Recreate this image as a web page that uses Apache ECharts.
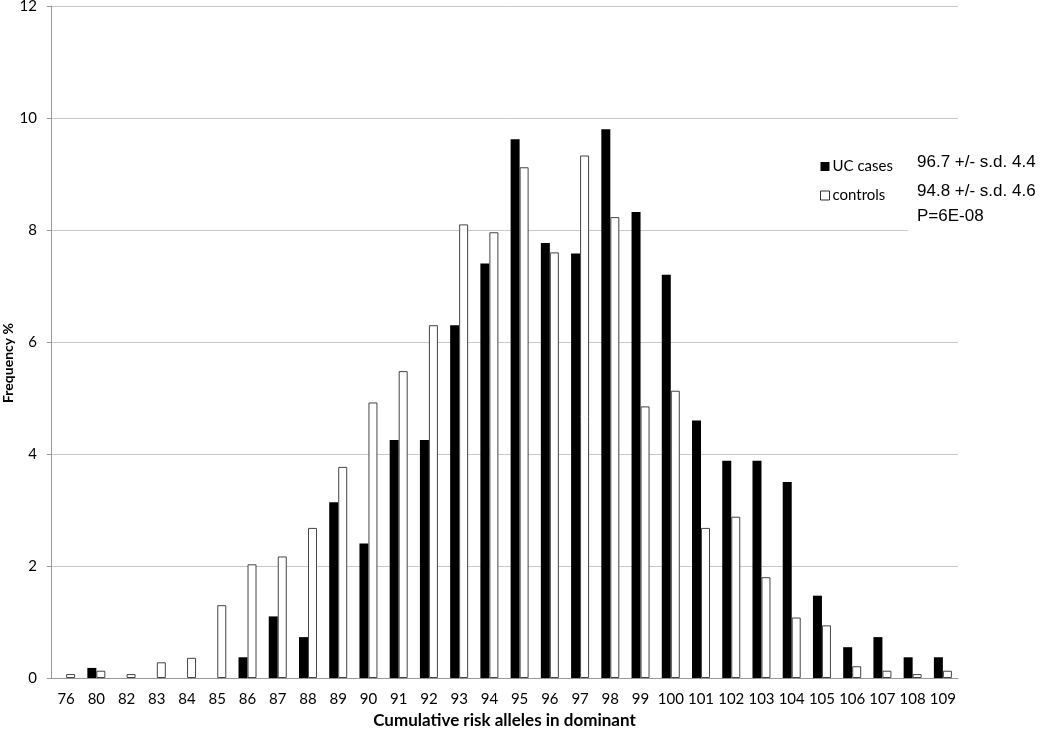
<!DOCTYPE html>
<html>
<head>
<meta charset="utf-8">
<script src="https://cdn.jsdelivr.net/npm/echarts@6/dist/echarts.min.js"></script>
<style>html,body{margin:0;padding:0;background:#fff}#c{width:1050px;height:733px}</style>
</head>
<body>
<div id="c"></div>
<script>
const categories = ['76','80','82','83','84','85','86','87','88','89','90','91','92','93','94','95','96','97','98','99','100','101','102','103','104','105','106','107','108','109'];
const ucCases = [0,0.18,0,0,0,0,0.37,1.1,0.73,3.14,2.4,4.25,4.25,6.3,7.4,9.62,7.77,7.58,9.8,8.32,7.2,4.6,3.88,3.88,3.5,1.47,0.55,0.73,0.37,0.37];
const controls = [0.07,0.13,0.07,0.28,0.36,1.3,2.03,2.17,2.68,3.77,4.92,5.48,6.3,8.1,7.96,9.12,7.6,9.33,8.23,4.85,5.13,2.68,2.88,1.8,1.08,0.94,0.21,0.13,0.07,0.13];
const yTicks = {min: 0, max: 12, interval: 2};
const annotations = ['96.7 +/- s.d. 4.4', '94.8 +/- s.d. 4.6', 'P=6E-08'];
const yName = 'Frequency %';

const chart = echarts.init(document.getElementById('c'));
const labelFont = 'Lato, "Open Sans", sans-serif';
chart.setOption({
  animation: false,
  backgroundColor: '#fff',
  grid: {left: 51, right: 92, top: 6, bottom: 55, containLabel: false, outerBoundsMode: 'none'},
  legend: {
    orient: 'vertical', left: 815, top: 154, itemGap: 14,
    itemWidth: 9, itemHeight: 9, icon: 'rect',
    textStyle: {fontFamily: labelFont, fontSize: 15, color: '#000', padding: [0,0,0,-2]},
    data: [{name: 'UC cases'}, {name: 'controls', itemStyle: {color: '#fff', borderColor: '#333', borderWidth: 1}}]
  },
  xAxis: {
    type: 'category', data: categories,
    name: 'Cumulative risk alleles in dominant', nameLocation: 'middle', nameGap: 34,
    nameTextStyle: {fontFamily: labelFont, fontSize: 17, fontWeight: 'bold', color: '#000'},
    axisLine: {lineStyle: {color: '#999'}}, axisTick: {show: false},
    axisLabel: {fontFamily: labelFont, fontSize: 15, color: '#000', margin: 14, interval: 0}
  },
  yAxis: {
    type: 'value', min: yTicks.min, max: yTicks.max, interval: yTicks.interval,
    axisLine: {show: true, lineStyle: {color: '#999'}},
    axisTick: {show: true, length: 4, lineStyle: {color: '#999'}},
    axisLabel: {fontFamily: labelFont, fontSize: 15, color: '#000', margin: 14},
    splitLine: {lineStyle: {color: '#c8c8c8', width: 1}}
  },
  series: [
    {name: 'UC cases', type: 'bar', data: ucCases, barWidth: 9, barGap: '0%',
     itemStyle: {color: '#000'}},
    {name: 'controls', type: 'bar', data: controls, barWidth: 9, barGap: '0%',
     itemStyle: {color: '#fff', borderColor: '#444', borderWidth: 1}}
  ],
  graphic: [
    {type: 'text', x: 8, y: 363, rotation: Math.PI / 2, z: 51,
     style: {text: yName, font: 'bold 14px Lato, "Open Sans", sans-serif', fill: '#000', align: 'center', verticalAlign: 'middle'}},
    {type: 'rect', left: 908, top: 140, z: 50, shape: {width: 142, height: 100}, style: {fill: '#fff'}},
    {type: 'text', left: 917, top: 154, z: 51, style: {text: annotations[0], font: '17px "Liberation Sans", Arial, sans-serif', fill: '#000'}},
    {type: 'text', left: 917, top: 183, z: 51, style: {text: annotations[1], font: '17px "Liberation Sans", Arial, sans-serif', fill: '#000'}},
    {type: 'text', left: 917, top: 208, z: 51, style: {text: annotations[2], font: '17px "Liberation Sans", Arial, sans-serif', fill: '#000'}}
  ]
});
</script>
</body>
</html>
